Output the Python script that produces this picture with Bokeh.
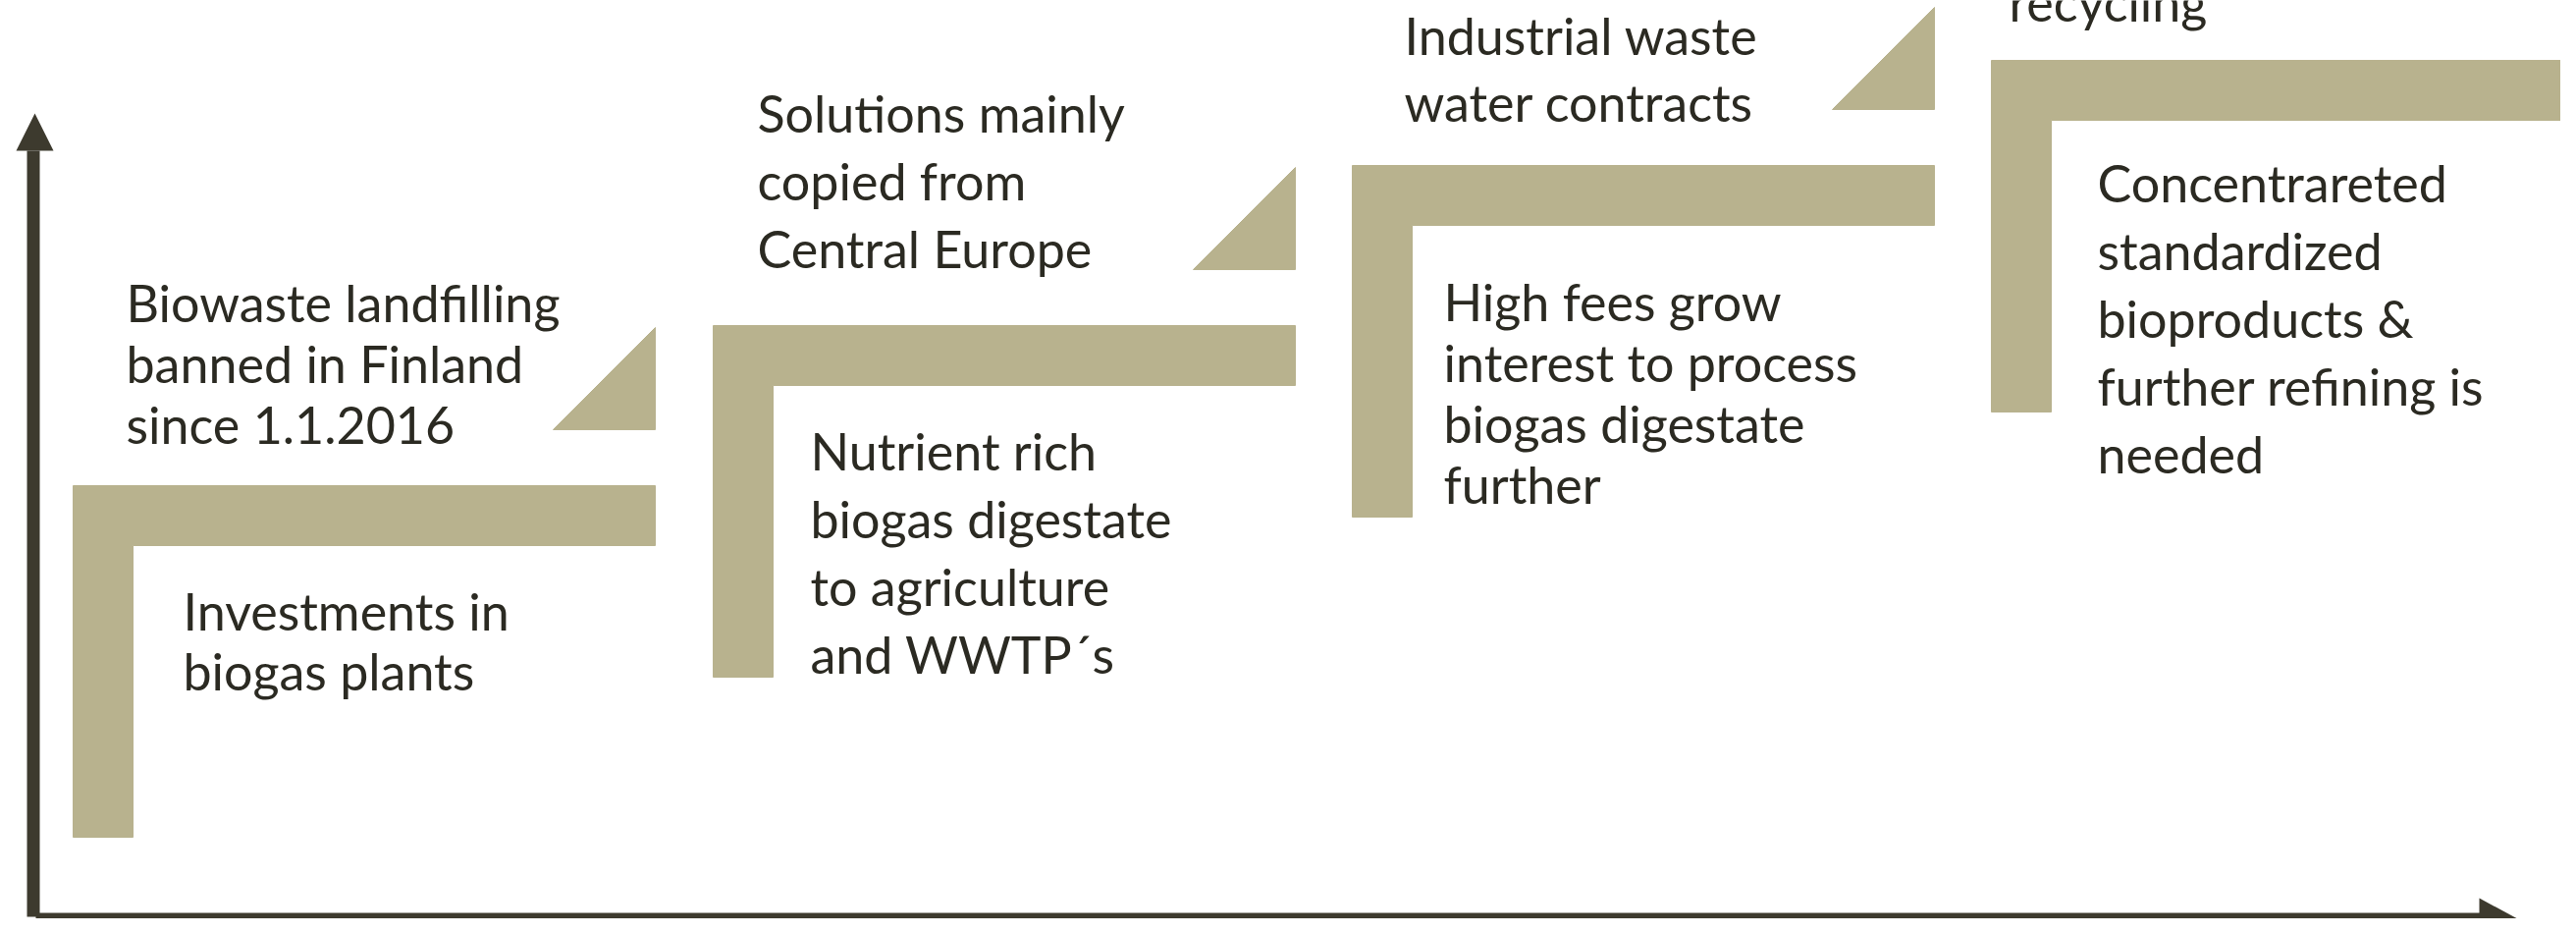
from bokeh.plotting import figure
from bokeh.models import Range1d, ColumnDataSource
from bokeh.core.properties import value
from bokeh.embed import file_html
from bokeh.resources import INLINE

# ---- diagram content ----
step_left = [74, 726, 1377, 2028]     # left edge of each L-shaped step
step_top = [494, 331, 168, 61]        # top edge of each step
has_triangle = [True, True, True, False]

upper_texts = [
    ["Biowaste landfilling", "banned in Finland", "since 1.1.2016"],
    ["Solutions mainly", "copied from", "Central Europe"],
    ["Industrial waste", "water contracts"],
    ["recycling"],
]
upper_x = [128, 771, 1430, 2046]
upper_first = [307, 114, 35, 1]
upper_gap = [62, 69, 68, 69]

lower_texts = [
    ["Investments in", "biogas plants"],
    ["Nutrient rich", "biogas digestate", "to agriculture", "and WWTP\u00b4s"],
    ["High fees grow", "interest to process", "biogas digestate", "further"],
    ["Concentrareted", "standardized", "bioproducts &", "further refining is", "needed"],
]
lower_x = [186, 825, 1470, 2136]
lower_first = [621, 458, 306, 185]
lower_gap = [61, 69, 62, 69]

# ---- geometry / style ----
BAR_W = 593
BAR_T = 61
BAR_H = 358
TRI = 104
TRI_GAP = 57
STEP_COLOR = "#B8B28E"
AXIS_COLOR = "#3D3A2E"
TEXT_COLOR = "#2B2A22"

W, H = 2608, 935
p = figure(width=W, height=H, output_backend="svg", toolbar_location=None,
           x_range=Range1d(0, W), y_range=Range1d(H, 0),
           min_border=0, outline_line_color=None)
p.axis.visible = False
p.grid.visible = False
p.background_fill_color = "white"
p.border_fill_color = "white"

# L shapes
xs, ys = [], []
for x0, y0 in zip(step_left, step_top):
    xs.append([x0, x0 + BAR_W, x0 + BAR_W, x0 + BAR_T, x0 + BAR_T, x0])
    ys.append([y0, y0, y0 + BAR_T, y0 + BAR_T, y0 + BAR_H, y0 + BAR_H])
p.patches(xs, ys, fill_color=STEP_COLOR, line_color=STEP_COLOR, line_width=1)

# triangles
txs, tys = [], []
for x0, y0, t in zip(step_left, step_top, has_triangle):
    if not t:
        continue
    r = x0 + BAR_W
    b = y0 - TRI_GAP
    txs.append([r - TRI, r, r])
    tys.append([b, b, b - TRI])
p.patches(txs, tys, fill_color=STEP_COLOR, line_color=STEP_COLOR, line_width=1)

# axes with arrows
p.quad(left=[27], right=[40], top=[153], bottom=[933], fill_color=AXIS_COLOR, line_color=None)
p.patches([[16, 54, 35]], [[153, 153, 115]], fill_color=AXIS_COLOR, line_color=None)
p.quad(left=[36], right=[2526], top=[929], bottom=[942], fill_color=AXIS_COLOR, line_color=None)
p.patches([[2525, 2525, 2563]], [[914, 955, 934.5]], fill_color=AXIS_COLOR, line_color=None)

# text
tx, ty, tt = [], [], []
for blocks, bx, bf, bg in ((upper_texts, upper_x, upper_first, upper_gap),
                           (lower_texts, lower_x, lower_first, lower_gap)):
    for lines, x, f, g in zip(blocks, bx, bf, bg):
        for i, s in enumerate(lines):
            tx.append(x)
            ty.append(f + i * g)
            tt.append(s)
src = ColumnDataSource(dict(x=tx, y=ty, text=tt))
p.text(x="x", y="y", text="text", source=src, text_font=value("Lato"),
       text_font_size="52px", text_color=TEXT_COLOR,
       text_align="left", text_baseline="alphabetic")

open("out.html", "w").write(file_html(p, INLINE))
